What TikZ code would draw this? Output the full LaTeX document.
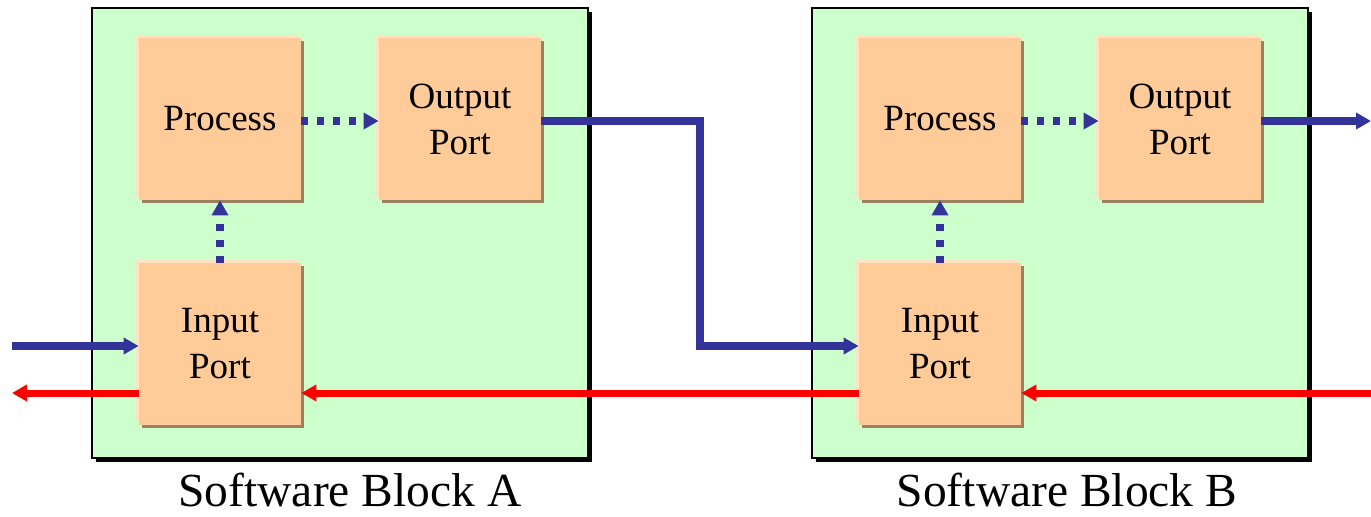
\documentclass[tikz,border=0pt]{standalone}
\usepackage{fontspec}
\setmainfont{Liberation Serif}
\usetikzlibrary{arrows.meta,shadows}
\definecolor{blockgreen}{HTML}{CCFFCC}
\definecolor{portorange}{HTML}{FFCC99}
\definecolor{portshade}{HTML}{9C8062}
\definecolor{portlight}{HTML}{FFE2C6}
\definecolor{linkblue}{HTML}{333399}
\definecolor{linkred}{HTML}{FF0000}
\tikzset{
  swblock/.style={rectangle,draw=black,line width=1pt,fill=blockgreen,
    minimum width=248pt,minimum height=225pt,inner sep=0,
    drop shadow={shadow xshift=2pt,shadow yshift=-2pt,fill=black,opacity=1}},
  portbox/.style={rectangle,fill=portorange,minimum width=81pt,minimum height=81pt,
    inner sep=0,align=center,font=\fontsize{18.5}{23}\selectfont,
    general shadow={shadow xshift=-1.5pt,shadow yshift=1.5pt,fill=portlight},
    drop shadow={shadow xshift=1.5pt,shadow yshift=-1.5pt,fill=portshade,opacity=1}},
  bluearrow/.style={draw=linkblue,line width=3.7pt,-{Triangle[length=7.5pt,width=8pt]}},
  redarrow/.style={draw=linkred,line width=3.5pt,-{Triangle[length=7.5pt,width=8pt]}},
  dotarrow/.style={draw=linkblue,line width=3.7pt,dash pattern=on 3.5pt off 4.5pt,
    -{Triangle[length=7.5pt,width=8pt]}},
  blocklabel/.style={font=\fontsize{23.75}{28}\selectfont,inner sep=0pt}
}
\begin{document}
\begin{tikzpicture}[x=0.5pt,y=-0.5pt]
\useasboundingbox (0,0) rectangle (1371,516);
% software blocks
\draw (340,233) node[swblock] (A) {};
\draw (1060,233) node[swblock] (B) {};
\draw (350,490) node[blocklabel] (labA) {Software Block A};
\draw (1067,490) node[blocklabel] (labB) {Software Block B};
% ports and processes
\draw (220,119) node[portbox] (procA) {Process};
\draw (460,119) node[portbox] (outA) {Output\\Port};
\draw (220,344) node[portbox] (inA) {Input\\Port};
\draw (940,119) node[portbox] (procB) {Process};
\draw (1180,119) node[portbox] (outB) {Output\\Port};
\draw (940,344) node[portbox] (inB) {Input\\Port};
% free ends
\coordinate (inL) at (12,346);
\coordinate (redL) at (12,393);
\coordinate (redR) at (1371,393);
\coordinate (outR) at (1371,121);
\coordinate (bend) at (700,346);
% inside the blocks
\draw[dotarrow] (procA.east |- outR) -- (outA.west |- outR);
\draw[dotarrow] (inA) -- (procA);
\draw[dotarrow] (procB.east |- outR) -- (outB.west |- outR);
\draw[dotarrow] (inB) -- (procB);
% data links
\draw[bluearrow] (inL) -- (inL -| inA.west);
\draw[bluearrow] (outA.east |- outR) -| (bend) -- (bend -| inB.west);
\draw[bluearrow] (outB.east |- outR) -- (outR);
% return links
\draw[redarrow] (redR) -- (redR -| inB.east);
\draw[redarrow] (redR -| inB.west) -- (redR -| inA.east);
\draw[redarrow] (redR -| inA.west) -- (redL);
\end{tikzpicture}
\end{document}
